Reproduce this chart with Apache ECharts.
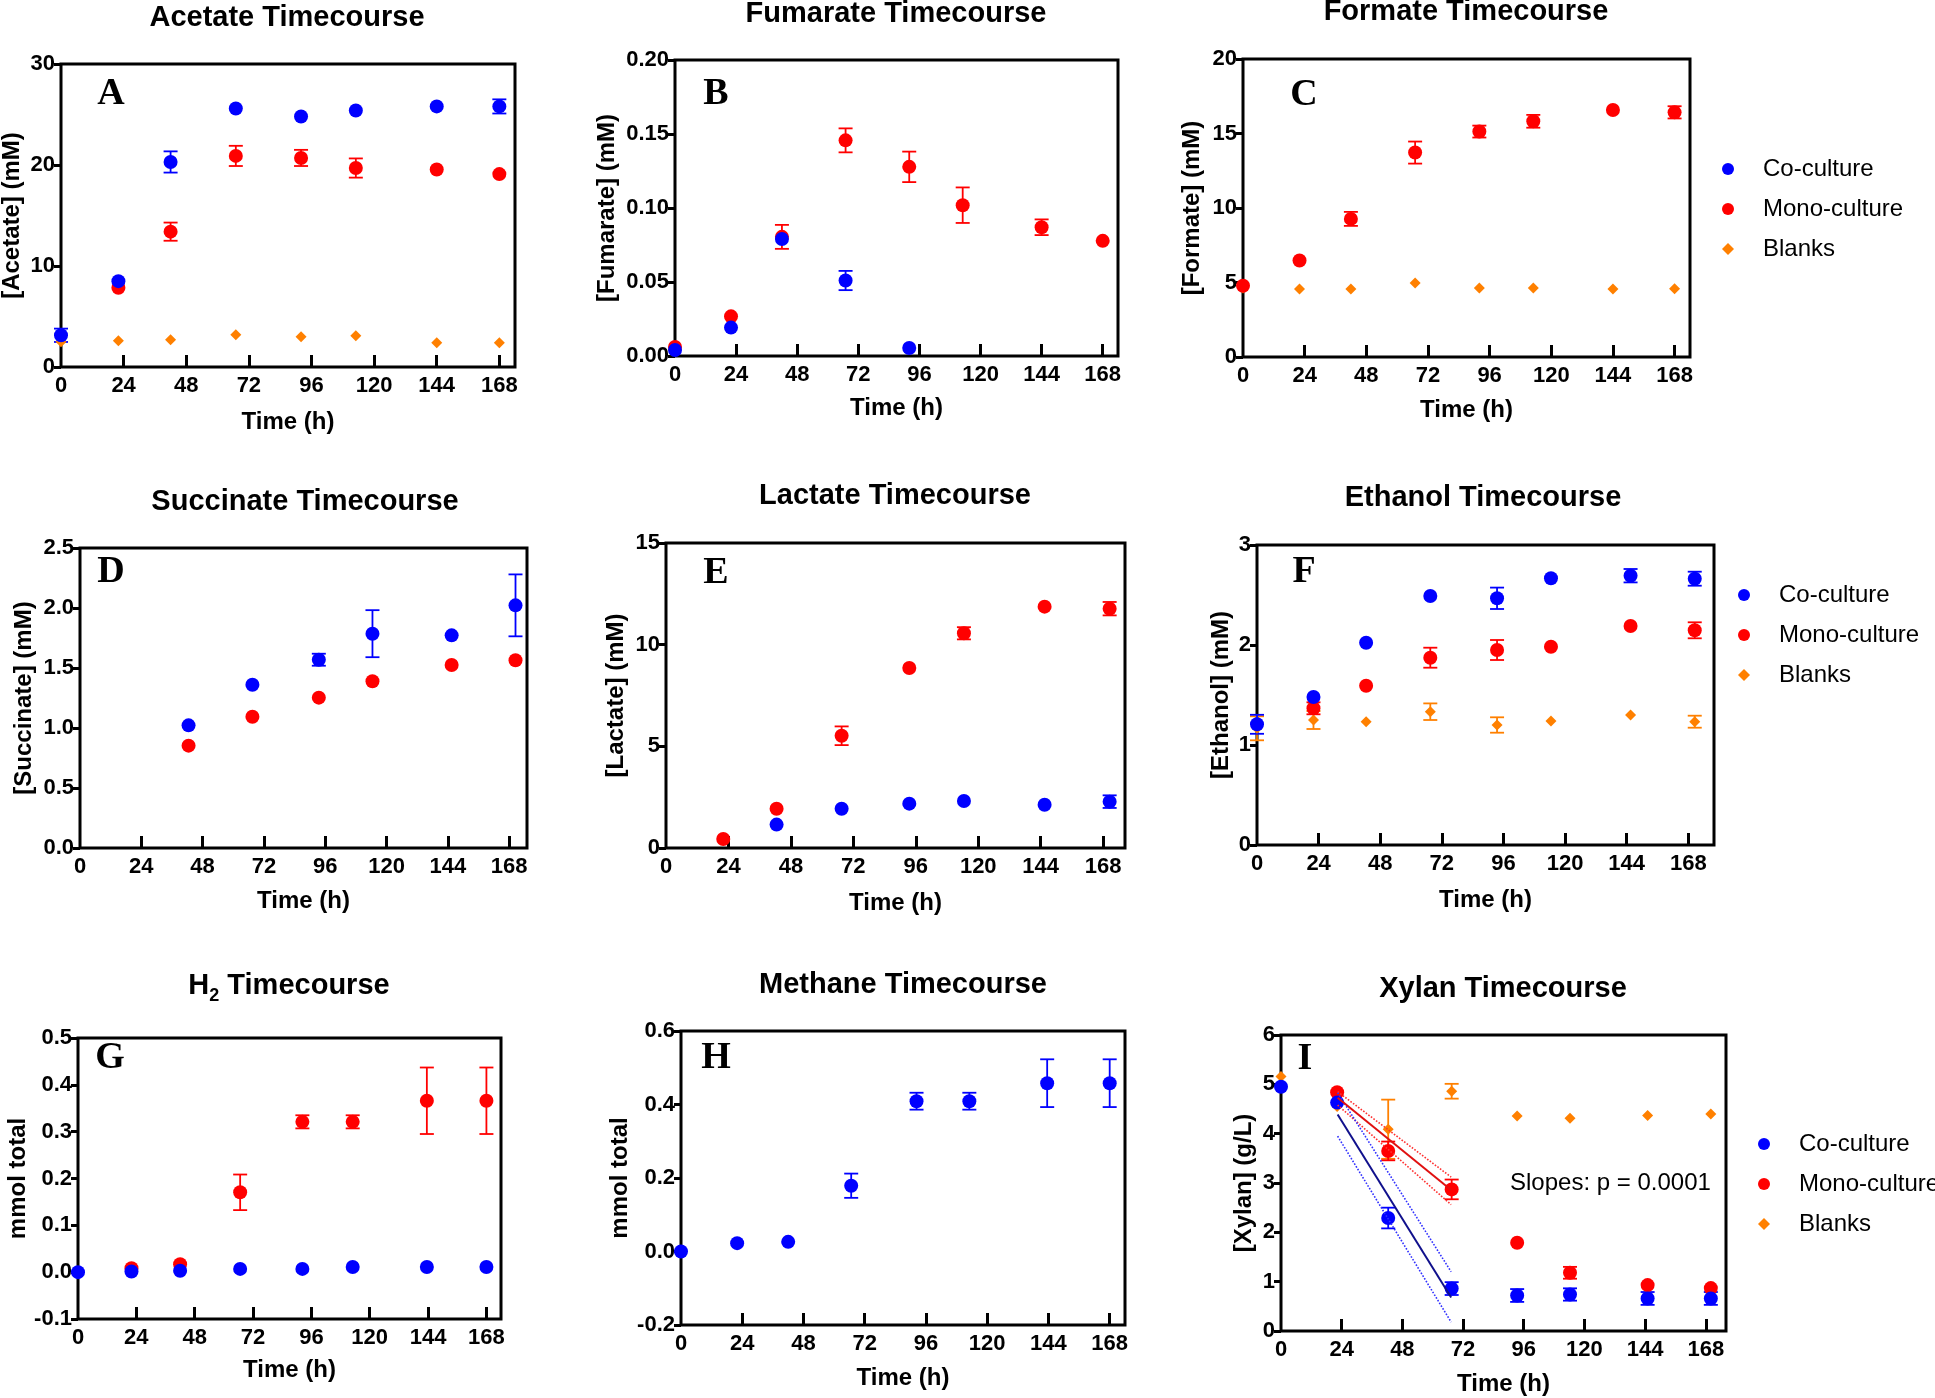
<!DOCTYPE html>
<html><head><meta charset="utf-8">
<script src="https://cdn.jsdelivr.net/npm/echarts@6/dist/echarts.min.js"></script>
<style>html,body{margin:0;padding:0;background:#fff}#c{width:1935px;height:1398px}</style>
</head><body><div id="c"></div>
<script>
// ---------- tick labels & sampling times ----------
const xTickLabels = [0, 24, 48, 72, 96, 120, 144, 168];
const timeRow1 = [0, 22, 42, 67, 92, 113, 144, 168];
const timeRow2 = [0, 22, 42.5, 67.5, 93.5, 114.5, 145.5, 170.5];
const timeRow3 = [0, 22, 42, 66.7, 92.3, 113, 143.5, 168];
const timeXylan = [0, 22.2, 42.4, 67.5, 93.4, 114.3, 145, 170];
const legendNames = ['Co-culture', 'Mono-culture', 'Blanks'];

// ---------- A Acetate ----------
const acetateCo = [3.14, 8.5, 20.3, 25.6, 24.8, 25.4, 25.8, 25.8];
const acetateCoErr = [0.66, 0, 1.05, 0, 0, 0, 0, 0.7];
const acetateMono = [null, 7.84, 13.4, 20.9, 20.7, 19.7, 19.55, 19.1];
const acetateMonoErr = [0, 0, 0.9, 1.0, 0.8, 0.95, 0, 0];
const acetateBlank = [2.5, 2.6, 2.7, 3.2, 3.0, 3.1, 2.4, 2.4];
// ---------- B Fumarate ----------
const fumarateCo = [0.0041, 0.0192, 0.0791, 0.051, 0.0054, null, null, null];
const fumarateCoErr = [0, 0, 0, 0.0065, 0, 0, 0, 0];
const fumarateMono = [0.0061, 0.0268, 0.0805, 0.1457, 0.1278, 0.1019, 0.087, 0.0778];
const fumarateMonoErr = [0, 0, 0.0081, 0.0081, 0.0103, 0.012, 0.0053, 0];
// ---------- C Formate ----------
const formateMono = [4.78, 6.48, 9.27, 13.72, 15.13, 15.82, 16.58, 16.42];
const formateMonoErr = [0, 0, 0.47, 0.74, 0.4, 0.43, 0, 0.41];
const formateBlank = [4.63, 4.56, 4.56, 4.96, 4.63, 4.63, 4.56, 4.58];
// ---------- D Succinate ----------
const succinateCo = [null, null, 1.022, 1.361, 1.569, 1.786, 1.772, 2.022];
const succinateCoErr = [0, 0, 0, 0, 0.05, 0.196, 0, 0.258];
const succinateMono = [null, null, 0.853, 1.094, 1.253, 1.389, 1.525, 1.564];
// ---------- E Lactate ----------
const lactateCo = [null, null, 1.15, 1.93, 2.18, 2.31, 2.13, 2.28];
const lactateCoErr = [0, 0, 0, 0, 0, 0, 0, 0.31];
const lactateMono = [null, 0.44, 1.93, 5.52, 8.85, 10.56, 11.87, 11.77];
const lactateMonoErr = [0, 0, 0, 0.46, 0, 0.3, 0, 0.33];
// ---------- F Ethanol ----------
const ethanolCo = [1.207, 1.48, 2.023, 2.49, 2.467, 2.667, 2.693, 2.663];
const ethanolCoErr = [0.095, 0, 0, 0, 0.107, 0, 0.067, 0.07];
const ethanolMono = [null, 1.367, 1.593, 1.873, 1.95, 1.983, 2.19, 2.147];
const ethanolMonoErr = [0, 0.06, 0, 0.1, 0.1, 0, 0, 0.08];
const ethanolBlank = [1.167, 1.25, 1.233, 1.333, 1.2, 1.24, 1.3, 1.233];
const ethanolBlankErr = [0.12, 0.09, 0, 0.083, 0.077, 0, 0, 0.06];
// ---------- G H2 ----------
const h2Co = [0, 0.0015, 0.003, 0.007, 0.007, 0.011, 0.011, 0.011];
const h2Mono = [null, 0.0085, 0.017, 0.1705, 0.321, 0.321, 0.366, 0.366];
const h2MonoErr = [0, 0, 0, 0.038, 0.014, 0.014, 0.071, 0.071];
// ---------- H Methane ----------
const methaneCo = [0, 0.0227, 0.0263, 0.179, 0.409, 0.409, 0.458, 0.458];
const methaneCoErr = [0, 0, 0, 0.033, 0.023, 0.023, 0.065, 0.065];
// ---------- I Xylan ----------
const xylanCo = [4.95, 4.63, 2.29, 0.86, 0.72, 0.74, 0.66, 0.66];
const xylanCoErr = [0, 0, 0.21, 0.13, 0.13, 0.125, 0.13, 0.13];
const xylanMono = [null, 4.84, 3.65, 2.87, 1.79, 1.18, 0.93, 0.87];
const xylanMonoErr = [0, 0, 0.19, 0.2, 0, 0.12, 0, 0];
const xylanBlank = [5.16, 4.55, 4.09, 4.86, 4.36, 4.31, 4.37, 4.40];
const xylanBlankErr = [0, 0, 0.6, 0.15, 0, 0, 0, 0];
// linear fits (22–67 h) with confidence bands
const fitTimes = [22.4, 67.3];
const fitMono = [4.73, 2.86];
const fitMonoUpper = [4.85, 3.12];
const fitMonoLower = [4.58, 2.56];
const fitCo = [4.39, 0.68];
const fitCoUpper = [4.83, 1.2];
const fitCoLower = [3.95, 0.18];
const slopeText = 'Slopes: p = 0.0001';

// ---------- styling ----------
const FONT = '"Liberation Sans", Arial, Helvetica, sans-serif';
const SERIF = '"Liberation Serif", "Times New Roman", serif';
const C_CO = '#0000ff', C_MONO = '#ff0000', C_BLANK = '#ff8000';

const grids = [], xAxes = [], yAxes = [], series = [], graphics = [];

function pts(times, vals) {
  const d = [];
  times.forEach((t, i) => { if (vals[i] != null) d.push([t, vals[i]]); });
  return d;
}
function errs(times, vals, e) {
  const d = [];
  if (!e) return d;
  times.forEach((t, i) => { if (vals[i] != null && e[i] > 0) d.push([t, vals[i] - e[i], vals[i] + e[i]]); });
  return d;
}
function errBarSeries(idx, data, color) {
  return {
    type: 'custom', xAxisIndex: idx, yAxisIndex: idx, data: data, silent: true,
    encode: { x: 0, y: [1, 2] },
    renderItem: function (params, api) {
      const x = api.value(0), lo = api.value(1), hi = api.value(2);
      const a = api.coord([x, lo]), b = api.coord([x, hi]);
      const hw = 7;
      const st = () => ({ stroke: color, lineWidth: 1.8 });
      return { type: 'group', children: [
        { type: 'line', shape: { x1: a[0], y1: a[1], x2: b[0], y2: b[1] }, style: st() },
        { type: 'line', shape: { x1: a[0] - hw, y1: a[1], x2: a[0] + hw, y2: a[1] }, style: st() },
        { type: 'line', shape: { x1: b[0] - hw, y1: b[1], x2: b[0] + hw, y2: b[1] }, style: st() }
      ] };
    }
  };
}
function scatterSeries(idx, name, data, color, symbol, size) {
  return { type: 'scatter', name: name, xAxisIndex: idx, yAxisIndex: idx, data: data,
    symbol: symbol, symbolSize: size, clip: false, silent: true,
    itemStyle: { color: color, opacity: 1, borderWidth: 0 } };
}
const boldText = (size) => ({ fontFamily: FONT, fontWeight: 'bold', fontSize: size, color: '#000' });

function addPanel(p) {
  const i = grids.length;
  grids.push({ left: p.rect[0], top: p.rect[1], width: p.rect[2], height: p.rect[3],
    show: true, borderColor: '#000', borderWidth: 3, backgroundColor: 'transparent',
    containLabel: false, outerBoundsMode: 'none' });
  xAxes.push({ gridIndex: i, type: 'value', min: 0, max: p.xMax, interval: 24,
    name: 'Time (h)', nameLocation: 'middle', nameGap: p.xGap, nameTextStyle: boldText(24),
    axisLine: { show: false, onZero: false }, splitLine: { show: false },
    axisTick: { show: true, inside: true, length: 12, lineStyle: { color: '#000', width: 3 },
      customValues: xTickLabels.filter(v => v > 0) },
    axisLabel: Object.assign({ show: true, margin: 8, hideOverlap: false, customValues: xTickLabels }, boldText(22)) });
  yAxes.push({ gridIndex: i, type: 'value', min: p.yMin, max: p.yMax, interval: p.yInt,
    name: p.yName, nameLocation: 'middle', nameGap: p.yGap, nameRotate: 90, nameTextStyle: boldText(24),
    axisLine: { show: false, onZero: false }, splitLine: { show: false },
    axisTick: { show: true, inside: false, length: 7, lineStyle: { color: '#000', width: 3 } },
    axisLabel: Object.assign({ margin: 6, showMinLabel: true, showMaxLabel: true, hideOverlap: false,
      formatter: v => Number(v).toFixed(p.dec) }, boldText(22)) });
  (p.extra || []).forEach(s => { s.xAxisIndex = i; s.yAxisIndex = i; series.push(s); });
  p.groups.forEach(g => {
    series.push(errBarSeries(i, errs(p.times, g.vals, g.err), g.color));
    series.push(scatterSeries(i, g.name, pts(p.times, g.vals), g.color, g.symbol, g.size));
  });
  // title
  graphics.push(p.richTitle ? {
    type: 'text', x: p.title[1], y: p.title[2], silent: true,
    style: { text: p.title[0], align: 'center', verticalAlign: 'middle', rich: p.richTitle }
  } : {
    type: 'text', x: p.title[1], y: p.title[2], silent: true,
    style: { text: p.title[0], align: 'center', verticalAlign: 'middle', fill: '#000',
      fontFamily: FONT, fontWeight: 'bold', fontSize: 29 }
  });
  // panel letter
  graphics.push({ type: 'text', x: p.letter[1], y: p.letter[2], silent: true,
    style: { text: p.letter[0], align: 'center', verticalAlign: 'middle', fill: '#000',
      fontFamily: SERIF, fontWeight: 'bold', fontSize: 38 } });
}
const co = (vals, err) => ({ name: 'Co-culture', vals, err, color: C_CO, symbol: 'circle', size: 14 });
const mono = (vals, err) => ({ name: 'Mono-culture', vals, err, color: C_MONO, symbol: 'circle', size: 14 });
const blank = (vals, err) => ({ name: 'Blanks', vals, err, color: C_BLANK, symbol: 'diamond', size: 11 });

addPanel({ rect: [61, 64, 454, 303], xMax: 174, yMin: 0, yMax: 30, yInt: 10, dec: 0,
  yName: '[Acetate] (mM)', yGap: 37, xGap: 43, times: timeRow1,
  title: ['Acetate Timecourse', 287, 18], letter: ['A', 111, 94],
  groups: [blank(acetateBlank), mono(acetateMono, acetateMonoErr), co(acetateCo, acetateCoErr)] });
addPanel({ rect: [675, 60, 443, 296], xMax: 174, yMin: 0, yMax: 0.2, yInt: 0.05, dec: 2,
  yName: '[Fumarate] (mM)', yGap: 56, xGap: 40, times: timeRow1,
  title: ['Fumarate Timecourse', 896, 14], letter: ['B', 716, 94],
  groups: [mono(fumarateMono, fumarateMonoErr), co(fumarateCo, fumarateCoErr)] });
addPanel({ rect: [1243, 59, 447, 298], xMax: 174, yMin: 0, yMax: 20, yInt: 5, dec: 0,
  yName: '[Formate] (mM)', yGap: 39, xGap: 41, times: timeRow1,
  title: ['Formate Timecourse', 1466, 12], letter: ['C', 1304, 95],
  groups: [blank(formateBlank), mono(formateMono, formateMonoErr)] });
addPanel({ rect: [80, 548, 447, 300], xMax: 175, yMin: 0, yMax: 2.5, yInt: 0.5, dec: 1,
  yName: '[Succinate] (mM)', yGap: 44, xGap: 41, times: timeRow2,
  title: ['Succinate Timecourse', 305, 502], letter: ['D', 111, 572],
  groups: [mono(succinateMono), co(succinateCo, succinateCoErr)] });
addPanel({ rect: [666, 543, 459, 305], xMax: 176.4, yMin: 0, yMax: 15, yInt: 5, dec: 0,
  yName: '[Lactate] (mM)', yGap: 38, xGap: 43, times: timeRow2,
  title: ['Lactate Timecourse', 895, 496], letter: ['E', 716, 573],
  groups: [mono(lactateMono, lactateMonoErr), co(lactateCo, lactateCoErr)] });
addPanel({ rect: [1257, 545, 457, 300], xMax: 178, yMin: 0, yMax: 3, yInt: 1, dec: 0,
  yName: '[Ethanol] (mM)', yGap: 24, xGap: 43, times: timeRow2,
  title: ['Ethanol Timecourse', 1483, 498], letter: ['F', 1304, 572],
  groups: [blank(ethanolBlank, ethanolBlankErr), mono(ethanolMono, ethanolMonoErr), co(ethanolCo, ethanolCoErr)] });
addPanel({ rect: [78, 1038, 423, 281], xMax: 174, yMin: -0.1, yMax: 0.5, yInt: 0.1, dec: 1,
  yName: 'mmol total', yGap: 46, xGap: 39, times: timeRow3,
  title: ['{a|H}{s|2}{a| Timecourse}', 289, 988], letter: ['G', 110, 1058],
  richTitle: {
    a: { fontFamily: FONT, fontWeight: 'bold', fontSize: 29, fill: '#000', lineHeight: 34, verticalAlign: 'top' },
    s: { fontFamily: FONT, fontWeight: 'bold', fontSize: 18, fill: '#000', lineHeight: 18, verticalAlign: 'bottom' }
  },
  groups: [mono(h2Mono, h2MonoErr), co(h2Co)] });
addPanel({ rect: [681, 1031, 444, 294], xMax: 174, yMin: -0.2, yMax: 0.6, yInt: 0.2, dec: 1,
  yName: 'mmol total', yGap: 49, xGap: 41, times: timeRow3,
  title: ['Methane Timecourse', 903, 985], letter: ['H', 716, 1058],
  groups: [co(methaneCo, methaneCoErr)] });
const fitLine = (vals, color, type, width) => ({ type: 'line', data: fitTimes.map((t, k) => [t, vals[k]]),
  showSymbol: false, symbol: 'none', silent: true, lineStyle: { color: color, type: type, width: width } });
addPanel({ rect: [1281, 1035, 445, 296], xMax: 176, yMin: 0, yMax: 6, yInt: 1, dec: 0,
  yName: '[Xylan] (g/L)', yGap: 25, xGap: 41, times: timeXylan,
  title: ['Xylan Timecourse', 1503, 989], letter: ['I', 1305, 1059],
  extra: [
    fitLine(fitMonoUpper, '#ff3030', 'dotted', 1.6), fitLine(fitMonoLower, '#ff3030', 'dotted', 1.6),
    fitLine(fitCoUpper, '#3030ff', 'dotted', 1.6), fitLine(fitCoLower, '#3030ff', 'dotted', 1.6),
    fitLine(fitMono, '#e01010', 'solid', 2), fitLine(fitCo, '#10108c', 'solid', 2)
  ],
  groups: [blank(xylanBlank, xylanBlankErr), mono(xylanMono, xylanMonoErr), co(xylanCo, xylanCoErr)] });

graphics.push({ type: 'text', x: 1510, y: 1183, silent: true,
  style: { text: slopeText, align: 'left', verticalAlign: 'middle', fill: '#000', fontFamily: FONT, fontSize: 24 } });

const legendBase = (left, top) => ({
  orient: 'vertical', left: left, top: top, itemWidth: 12, itemHeight: 12, itemGap: 16,
  data: legendNames, selectedMode: false,
  textStyle: { fontFamily: FONT, fontSize: 24, color: '#000', lineHeight: 24, padding: [0, 0, 0, 24] }
});

const chart = echarts.init(document.getElementById('c'), null, { renderer: 'canvas' });
chart.setOption({
  animation: false,
  backgroundColor: '#ffffff',
  grid: grids, xAxis: xAxes, yAxis: yAxes, series: series,
  legend: [legendBase(1717, 152), legendBase(1733, 578), legendBase(1753, 1127)],
  graphic: { elements: graphics }
});
</script></body></html>
